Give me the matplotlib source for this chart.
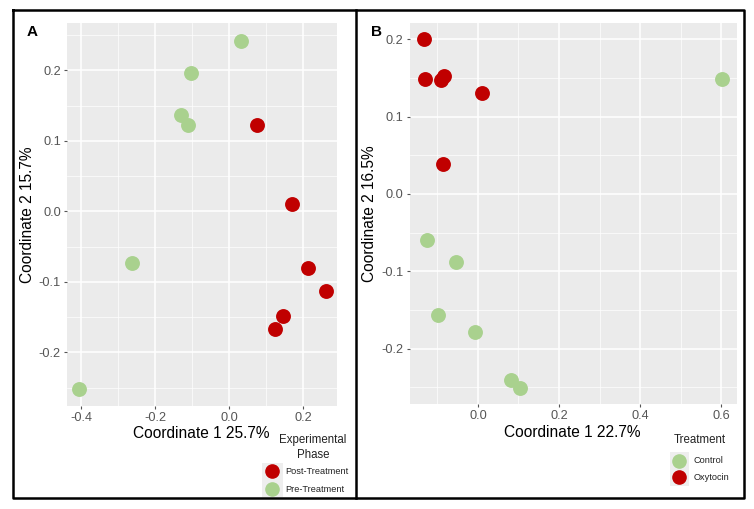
import matplotlib
matplotlib.use('Agg')
import matplotlib.pyplot as plt
from matplotlib.ticker import MultipleLocator
from matplotlib.lines import Line2D
from matplotlib.patches import Rectangle

plt.rcParams['font.family'] = ['Liberation Sans', 'DejaVu Sans']

# panel A: experimental phase
a_pre_x = [0.032, -0.104, -0.130, -0.112, -0.263, -0.406]
a_pre_y = [0.242, 0.196, 0.136, 0.123, -0.073, -0.252]
a_post_x = [0.077, 0.169, 0.213, 0.261, 0.146, 0.124]
a_post_y = [0.122, 0.011, -0.080, -0.113, -0.149, -0.167]

# panel B: treatment
b_oxy_x = [-0.132, -0.130, -0.091, -0.084, 0.011, -0.087]
b_oxy_y = [0.200, 0.148, 0.147, 0.153, 0.131, 0.039]
b_ctrl_x = [0.602, -0.125, -0.054, -0.099, -0.007, 0.082, 0.105]
b_ctrl_y = [0.148, -0.059, -0.088, -0.157, -0.179, -0.241, -0.251]

RED = '#c00000'
GREEN = '#a9d18e'
W, H = 754, 509

fig = plt.figure(figsize=(W / 100, H / 100), dpi=100)


def fx(x):
    return x / W


def fy(y):
    return 1 - y / H


def px_axes(left, top, right, bottom):
    return fig.add_axes([fx(left), fy(bottom), (right - left) / W, (bottom - top) / H])


def style(ax, xmaj, ymaj):
    ax.set_facecolor('#ebebeb')
    ax.xaxis.set_major_locator(MultipleLocator(xmaj))
    ax.xaxis.set_minor_locator(MultipleLocator(xmaj / 2))
    ax.yaxis.set_major_locator(MultipleLocator(ymaj))
    ax.yaxis.set_minor_locator(MultipleLocator(ymaj / 2))
    ax.grid(which='major', color='white', linewidth=1.1)
    ax.grid(which='minor', color='white', linewidth=0.5)
    ax.set_axisbelow(True)
    for s in ax.spines.values():
        s.set_visible(False)
    ax.tick_params(which='major', length=2.5, width=0.8, color='#555555',
                   labelcolor='#555555', labelsize=9.2, pad=2)
    ax.tick_params(which='minor', length=0)
    ax.xaxis.set_major_formatter(lambda v, p: f'{v:.1f}'.replace('\u2212', '-'))
    ax.yaxis.set_major_formatter(lambda v, p: f'{v:.1f}'.replace('\u2212', '-'))


def legend(title_lines, title_x, title_y0, items, key_x, text_x, key_box):
    for i, line in enumerate(title_lines):
        fig.text(fx(title_x), fy(title_y0 + i * 15), line, fontsize=8.3,
                 ha='center', va='center', color='#222222')
    x0, y0, x1, y1 = key_box
    fig.add_artist(Rectangle((fx(x0), fy(y1)), (x1 - x0) / W, (y1 - y0) / H,
                             transform=fig.transFigure, color='#eeeeee', lw=0))
    for label, color, y in items:
        fig.add_artist(Line2D([fx(key_x)], [fy(y)], marker='o', ls='', color=color,
                              markersize=9.5, transform=fig.transFigure))
        fig.text(fx(text_x), fy(y), label, fontsize=6.6, ha='left', va='center',
                 color='#222222')


axA = px_axes(67, 23, 337, 406)
axA.scatter(a_pre_x, a_pre_y, s=115, color=GREEN, linewidths=0, zorder=3)
axA.scatter(a_post_x, a_post_y, s=115, color=RED, linewidths=0, zorder=3)
axA.set_xlim(-0.438, 0.292)
axA.set_ylim(-0.276, 0.267)
style(axA, 0.2, 0.1)
axA.set_xlabel('Coordinate 1 25.7%', fontsize=11.2, va='center')
axA.set_ylabel('Coordinate 2 15.7%', fontsize=11.2, va='center')
axA.xaxis.set_label_coords(0.499, -0.073)
axA.yaxis.set_label_coords(-0.148, 0.5)

axB = px_axes(410, 23, 737, 404)
axB.scatter(b_ctrl_x, b_ctrl_y, s=115, color=GREEN, linewidths=0, zorder=3)
axB.scatter(b_oxy_x, b_oxy_y, s=115, color=RED, linewidths=0, zorder=3)
axB.set_xlim(-0.1675, 0.639)
axB.set_ylim(-0.2715, 0.221)
style(axB, 0.2, 0.1)
axB.set_xlabel('Coordinate 1 22.7%', fontsize=11.2, va='center')
axB.set_ylabel('Coordinate 2 16.5%', fontsize=11.2, va='center')
axB.xaxis.set_label_coords(0.4976, -0.076)
axB.yaxis.set_label_coords((370 - 410) / 327, 0.5)

legend(['Experimental', 'Phase'], 313, 440,
       [('Post-Treatment', RED, 471), ('Pre-Treatment', GREEN, 489)],
       271.7, 285, (262, 463, 283, 497))
legend(['Treatment'], 700, 440,
       [('Control', GREEN, 460.7), ('Oxytocin', RED, 477.3)],
       678.7, 694, (670, 452, 689, 486))

# panel letters
fig.text(fx(27), fy(32), 'A', fontsize=11, fontweight='bold', va='center')
fig.text(fx(371), fy(32), 'B', fontsize=11, fontweight='bold', va='center')

# outer frame and divider
frame = dict(color='black', linewidth=1.8, transform=fig.transFigure)
fig.add_artist(Line2D([fx(13), fx(744), fx(744), fx(13), fx(13)],
                      [fy(10), fy(10), fy(498), fy(498), fy(10)], **frame))
fig.add_artist(Line2D([fx(356), fx(356)], [fy(10), fy(498)], **frame))

fig.savefig('out.png', dpi=100)
